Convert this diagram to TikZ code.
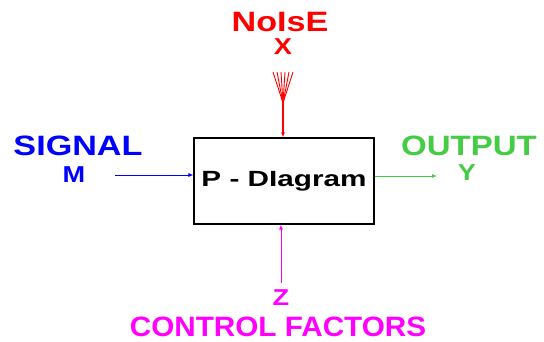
\documentclass[tikz,border=0pt]{standalone}
\usepackage{fontspec}
\setsansfont{Liberation Sans}[FakeStretch=1.18]
\newfontfamily\widefont{Liberation Sans}[FakeStretch=1.22]
\newfontfamily\boxfont{Liberation Sans}[FakeStretch=1.35]
\newfontfamily\plainfont{Liberation Sans}[FakeStretch=1.06]
\usepackage{tikz}
\usetikzlibrary{arrows.meta, positioning}
\definecolor{Noise}{HTML}{FF0000}
\definecolor{Signal}{HTML}{0000FF}
\definecolor{Output}{HTML}{44CC44}
\definecolor{Control}{HTML}{FF00FF}

\begin{document}
\begin{tikzpicture}[x=1pt, y=-1pt, every node/.style={font=\sffamily\bfseries, inner sep=0pt},
    big/.style={font=\sffamily\bfseries\fontsize{28}{30}\selectfont},
    small/.style={font=\sffamily\bfseries\fontsize{23}{25}\selectfont},
    flow/.style={-{Latex[length=5pt, width=4pt]}, line width=0.8pt}]
      \useasboundingbox (0,0) rectangle (544,341);
      \node[draw, line width=1.2pt, minimum width=180pt, minimum height=86pt,
            font=\boxfont\bfseries\fontsize{22}{24}\selectfont] (box) at (284,181) {P - DIagram};
      % noise
      \node[big, Noise, font=\widefont\bfseries\fontsize{28}{30}\selectfont] (noise) at (280,22) {NoIsE};
      \node[small, Noise] (x) at (283,47) {X};
      \coordinate (merge) at (283,103);
      \foreach \dx in {-10,-6,-2,2,6,10} {
        \draw[Noise, line width=0.9pt] (283+\dx,72) -- (merge);
      }
      \draw[Noise, line width=2.5pt] (merge) -- (283,125);
      \draw[Noise, flow, line width=1.2pt] (283,120) -- (box.north -| merge);
      % signal
      \node[big, Signal, font=\widefont\bfseries\fontsize{28}{30}\selectfont] (signal) at (78,146) {SIGNAL};
      \node[small, Signal] (m) at (74,175) {M};
      \coordinate (m end) at (115,175);
      \draw[Signal, flow] (m end) -- (m end -| box.west);
      % output
      \node[big, Output] (output) at (469,146) {OUTPUT};
      \node[small, Output] (y) at (467,173) {Y};
      \coordinate (y end) at (437,176);
      \draw[Output, flow] (y end -| box.east) -- (y end);
      % control factors
      \node[small, Control] (z) at (281,298) {Z};
      \node[big, Control, font=\plainfont\bfseries\fontsize{28}{30}\selectfont] (control) at (278,327) {CONTROL FACTORS};
      \coordinate (z end) at (281,283);
      \draw[Control, flow] (z end) -- (z end |- box.south);
    \end{tikzpicture}
\end{document}
